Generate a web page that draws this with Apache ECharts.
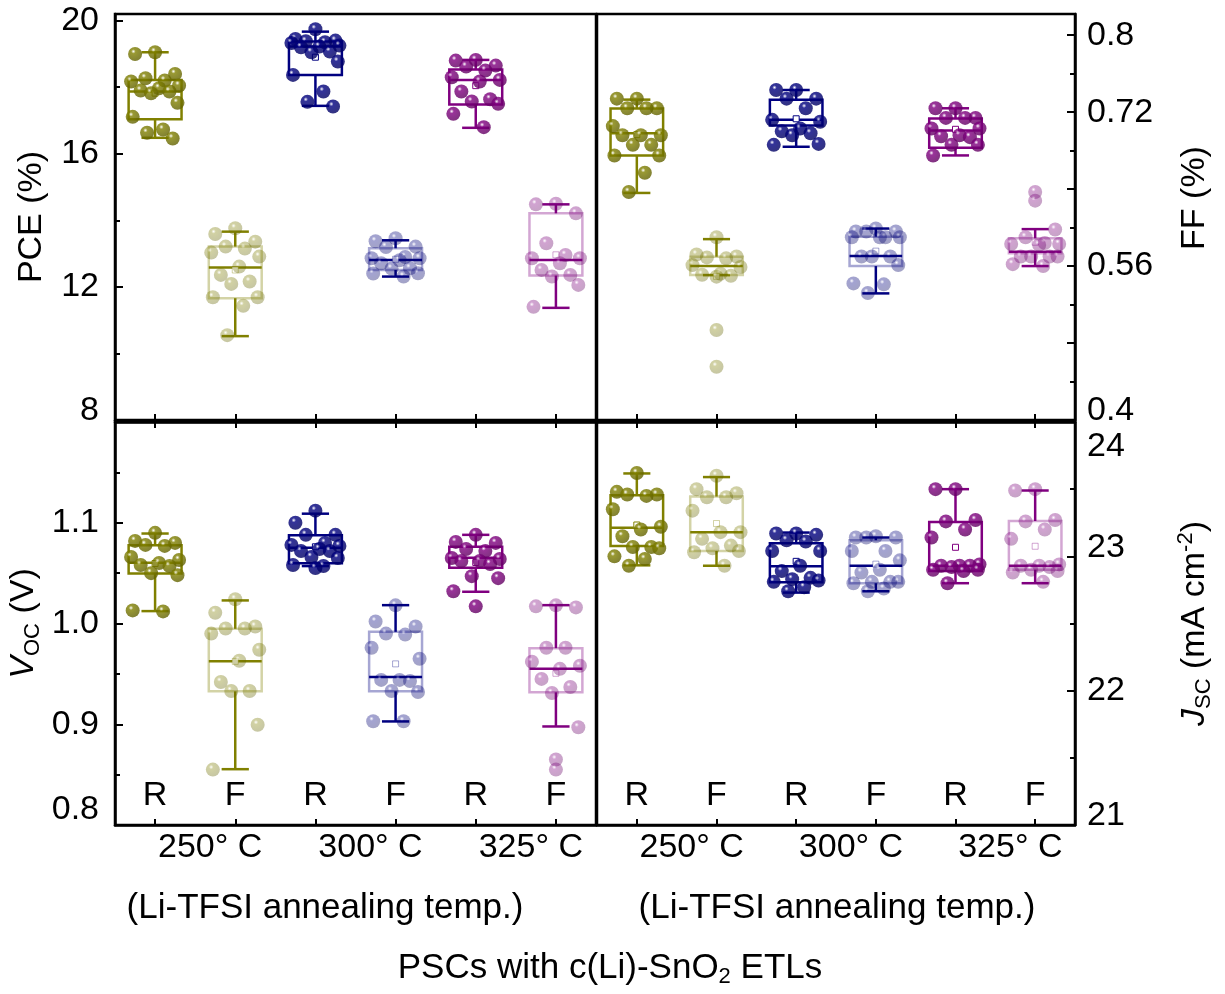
<!DOCTYPE html>
<html>
<head>
<meta charset="utf-8">
<script src="https://cdn.jsdelivr.net/npm/echarts@6/dist/echarts.min.js"></script>
<style>
html, body { margin: 0; background: #fff; }
#chart { width: 1225px; height: 994px; }
</style>
</head>
<body>
<div id="chart"></div>
<script>
// x categories (R = reverse scan, F = forward scan) and annealing temps
const categories = ['R', 'F', 'R', 'F', 'R', 'F'];
const temps = ['250° C', '300° C', '325° C'];

// PCE (%) points per group
const pceR250 = [19.05, 19.0, 18.4, 18.27, 18.2, 18.17, 18.05, 17.97, 17.9, 17.87, 17.82, 17.53, 17.11, 16.73, 16.63, 16.46];
const pceF250 = [13.76, 13.59, 13.36, 13.21, 13.15, 13.03, 12.91, 12.61, 12.36, 12.16, 12.09, 11.69, 11.69, 11.43, 10.55];
const pceR300 = [19.74, 19.45, 19.4, 19.38, 19.35, 19.33, 19.25, 19.22, 19.2, 19.07, 19.05, 18.77, 18.37, 17.87, 17.56, 17.42];
const pceF300 = [13.46, 13.37, 13.21, 13.2, 12.9, 12.86, 12.86, 12.8, 12.71, 12.56, 12.55, 12.41, 12.4, 12.31];
const pceR325 = [18.82, 18.8, 18.65, 18.62, 18.5, 18.3, 18.22, 18.17, 17.87, 17.64, 17.57, 17.5, 17.2, 16.8];
const pceF325 = [14.5, 14.48, 14.21, 13.31, 12.96, 12.86, 12.86, 12.71, 12.51, 12.36, 12.31, 12.06, 11.4];
// [whisker low, Q1, median, Q3, whisker high]
const pceBoxes = [
  [16.48, 17.04, 17.87, 18.22, 19.05],
  [10.52, 11.66, 12.58, 13.21, 13.66],
  [17.44, 18.37, 19.22, 19.37, 19.67],
  [12.31, 12.51, 12.81, 13.16, 13.4],
  [16.78, 17.48, 18.22, 18.53, 18.82],
  [11.37, 12.34, 12.81, 14.21, 14.48]
];

// FF points
const ffR250 = [0.734, 0.734, 0.724, 0.724, 0.724, 0.7055, 0.696, 0.696, 0.696, 0.686, 0.686, 0.675, 0.675, 0.657, 0.637];
const ffF250 = [0.59, 0.572, 0.57, 0.569, 0.568, 0.561, 0.559, 0.552, 0.551, 0.55, 0.549, 0.4935, 0.4554];
const ffR300 = [0.743, 0.743, 0.734, 0.734, 0.724, 0.712, 0.71, 0.703, 0.7, 0.698, 0.696, 0.687, 0.686];
const ffF300 = [0.599, 0.596, 0.596, 0.596, 0.59, 0.59, 0.59, 0.59, 0.57, 0.57, 0.57, 0.561, 0.542, 0.541, 0.532];
const ffR325 = [0.724, 0.724, 0.714, 0.714, 0.714, 0.703, 0.703, 0.696, 0.695, 0.694, 0.686, 0.686, 0.675];
const ffF325 = [0.637, 0.628, 0.598, 0.59, 0.584, 0.583, 0.583, 0.582, 0.57, 0.57, 0.57, 0.57, 0.562, 0.56];
const ffBoxes = [
  [0.636, 0.675, 0.698, 0.7238, 0.733],
  [0.5506, 0.5506, 0.56, 0.5697, 0.588],
  [0.684, 0.706, 0.712, 0.733, 0.743],
  [0.5316, 0.56, 0.5704, 0.5905, 0.599],
  [0.675, 0.683, 0.701, 0.7134, 0.724],
  [0.56, 0.5732, 0.5749, 0.5888, 0.5984]
];

// VOC (V) points
const vocR250 = [1.09, 1.082, 1.08, 1.078, 1.077, 1.066, 1.063, 1.06, 1.058, 1.057, 1.05, 1.048, 1.013, 1.012];
const vocF250 = [1.024, 1.0107, 0.997, 0.995, 0.995, 0.99, 0.974, 0.963, 0.942, 0.933, 0.933, 0.8995, 0.855];
const vocR300 = [1.112, 1.1, 1.088, 1.088, 1.08, 1.078, 1.077, 1.074, 1.072, 1.072, 1.066, 1.065, 1.058, 1.057, 1.055];
const vocF300 = [1.018, 1.002, 0.997, 0.99, 0.989, 0.976, 0.965, 0.944, 0.944, 0.943, 0.933, 0.932, 0.903, 0.903];
const vocR325 = [1.088, 1.081, 1.08, 1.074, 1.072, 1.065, 1.064, 1.062, 1.062, 1.059, 1.047, 1.045, 1.032, 1.017];
const vocF325 = [1.018, 1.017, 1.016, 0.976, 0.976, 0.962, 0.958, 0.955, 0.945, 0.937, 0.931, 0.897, 0.865, 0.855];
const vocBoxes = [
  [1.0123, 1.0497, 1.0604, 1.0776, 1.0893],
  [0.8554, 0.9327, 0.9625, 0.9947, 1.0229],
  [1.057, 1.0597, 1.0753, 1.0876, 1.109],
  [0.9028, 0.9327, 0.947, 0.9917, 1.0182],
  [1.0315, 1.0554, 1.0653, 1.0763, 1.088],
  [0.8978, 0.9317, 0.955, 0.9755, 1.0182]
];

// JSC (mA cm-2) points
const jscR250 = [23.62, 23.48, 23.46, 23.46, 23.45, 23.35, 23.22, 23.2, 23.15, 23.07, 23.07, 23.06, 23.0, 22.98, 22.93];
const jscF250 = [23.6, 23.5, 23.47, 23.44, 23.44, 23.34, 23.18, 23.18, 23.13, 23.08, 23.06, 23.04, 23.03, 22.93];
const jscR300 = [23.17, 23.17, 23.16, 23.12, 23.11, 23.04, 23.04, 22.93, 22.89, 22.84, 22.83, 22.82, 22.81, 22.77, 22.74];
const jscF300 = [23.15, 23.14, 23.14, 23.14, 23.04, 23.04, 22.97, 22.9, 22.88, 22.81, 22.81, 22.81, 22.8, 22.76, 22.74];
const jscR325 = [23.5, 23.5, 23.27, 23.26, 23.2, 23.14, 22.94, 22.93, 22.93, 22.93, 22.92, 22.9, 22.9, 22.89, 22.8];
const jscF325 = [23.5, 23.49, 23.27, 23.26, 23.2, 23.13, 22.94, 22.93, 22.93, 22.92, 22.9, 22.89, 22.88, 22.81];
const jscBoxes = [
  [22.933, 23.077, 23.213, 23.455, 23.617],
  [22.93, 23.04, 23.18, 23.445, 23.59],
  [22.73, 22.808, 22.927, 23.097, 23.177],
  [22.74, 22.8, 22.93, 23.12, 23.14],
  [22.8, 22.89, 22.93, 23.255, 23.5],
  [22.8, 22.9, 22.93, 23.263, 23.49]
];

const FONT = '"Liberation Sans", Arial, sans-serif';
const RGB = [[128, 128, 0], [0, 0, 128], [128, 0, 128]];
// horizontal spread of the dots inside a category (fraction of band)
const JITTER = [0, -0.25, 0.25, -0.12, 0.12, -0.3, 0.3, 0.05, -0.18, 0.18, -0.05, 0.28, -0.28, 0.1, -0.1, 0.22];
const BAND = 80;

const panels = [
  { boxes: pceBoxes, points: [pceR250, pceF250, pceR300, pceF300, pceR325, pceF325] },
  { boxes: ffBoxes, points: [ffR250, ffF250, ffR300, ffF300, ffR325, ffF325] },
  { boxes: vocBoxes, points: [vocR250, vocF250, vocR300, vocF300, vocR325, vocF325] },
  { boxes: jscBoxes, points: [jscR250, jscF250, jscR300, jscF300, jscR325, jscF325] }
];

function rgba(c, a) { return 'rgba(' + c[0] + ',' + c[1] + ',' + c[2] + ',' + a + ')'; }
function ball(c, a) {
  const d = c.map(v => Math.round(v * 0.75));
  return {
    type: 'radial', x: 0.38, y: 0.32, r: 0.72,
    colorStops: [
      { offset: 0, color: rgba([255, 255, 255], a) },
      { offset: 0.22, color: rgba(c, a) },
      { offset: 1, color: rgba(d, a) }
    ]
  };
}
function mean(arr) { return arr.reduce((s, v) => s + v, 0) / arr.length; }

function boxSeries(p, k) {
  return {
    type: 'custom', xAxisIndex: k, yAxisIndex: k, z: 2, silent: true,
    encode: { x: 0, y: [1, 2, 3, 4, 5] },
    data: p.boxes.map((b, i) => [i].concat(b, [mean(p.points[i])])),
    renderItem(params, api) {
      const i = api.value(0);
      const col = RGB[Math.floor(i / 2)];
      const light = i % 2 === 1;
      const band = api.size([1, 0])[0];
      const half = band * 0.33, cap = band * 0.17;
      const x = api.coord([i, api.value(3)])[0];
      const y = j => api.coord([i, api.value(j)])[1];
      const dark = rgba(col, 1);
      const edge = light ? rgba(col, 0.35) : dark;
      const ln = (x1, y1, x2, y2) => ({ type: 'line', shape: { x1, y1, x2, y2 }, style: { stroke: dark, lineWidth: 2.5 } });
      return {
        type: 'group',
        children: [
          { type: 'rect', shape: { x: x - half, y: y(4), width: 2 * half, height: y(2) - y(4) }, style: { fill: 'none', stroke: edge, lineWidth: 2.5 } },
          ln(x, y(4), x, y(5)),
          ln(x, y(2), x, y(1)),
          ln(x - cap, y(5), x + cap, y(5)),
          ln(x - cap, y(1), x + cap, y(1)),
          ln(x - half, y(3), x + half, y(3)),
          { type: 'rect', shape: { x: x - 3, y: y(6) - 3, width: 6, height: 6 }, style: { fill: '#fff', stroke: edge, lineWidth: 1 } }
        ]
      };
    }
  };
}

function pointSeries(p, k) {
  const data = [];
  p.points.forEach((arr, i) => {
    const col = RGB[Math.floor(i / 2)];
    const a = i % 2 ? 0.45 : 1;
    const b = p.boxes[i];
    const tol = (b[4] - b[0]) * 0.02;
    arr.forEach((v, j) => {
      // dots beyond the whiskers sit on the centre line
      const outside = v > b[4] + tol || v < b[0] - tol;
      data.push({
        value: [i, v],
        symbolOffset: [outside ? 0 : JITTER[j % JITTER.length] * BAND, 0],
        itemStyle: { color: ball(col, a) }
      });
    });
  });
  return { type: 'scatter', xAxisIndex: k, yAxisIndex: k, symbolSize: 14, z: 3, silent: true, data };
}

const black = { color: '#000', width: 2.5 };
const txt = { color: '#000', fontSize: 34, fontFamily: FONT };

function catAxis(k, showLabels) {
  return {
    type: 'category', gridIndex: k, data: categories, position: 'bottom',
    axisLine: { show: true, lineStyle: black },
    axisTick: { show: true, inside: true, alignWithLabel: true, length: 6, lineStyle: { color: '#000', width: 2 } },
    axisLabel: showLabels ? Object.assign({ inside: true, margin: 12 }, txt) : { show: false },
    splitLine: { show: false }
  };
}
function tempAxis(k) {
  return {
    type: 'category', gridIndex: k, data: temps, position: 'bottom',
    axisLine: { show: false }, axisTick: { show: false },
    axisLabel: Object.assign({ margin: 6, padding: [0, 0, 0, 30] }, txt)
  };
}
function topAxis(k) {
  return {
    type: 'category', gridIndex: k, data: categories, position: 'top',
    axisLine: { show: true, lineStyle: black },
    axisTick: { show: true, inside: true, alignWithLabel: true, length: 6, lineStyle: { color: '#000', width: 2 } },
    axisLabel: { show: false }
  };
}

const near = (a, b) => Math.abs(a - b) < 1e-6;
const richShift = {
  up: { padding: [0, 0, 18, 0], fontSize: 34, fontFamily: FONT, color: '#000' },
  up2: { padding: [0, 0, 30, 0], fontSize: 34, fontFamily: FONT, color: '#000' },
  down: { padding: [50, 0, 0, 0], fontSize: 34, fontFamily: FONT, color: '#000' }
};
const nameRich = {
  i: { fontStyle: 'italic', fontSize: 34, fontFamily: FONT, color: '#000', lineHeight: 40 },
  s: { fontSize: 22, fontFamily: FONT, color: '#000', verticalAlign: 'bottom', lineHeight: 22 },
  p: { fontSize: 22, fontFamily: FONT, color: '#000', verticalAlign: 'top', lineHeight: 22 },
  n: { fontSize: 34, fontFamily: FONT, color: '#000', lineHeight: 40 }
};

function valAxis(k, position, min, max, interval, formatter, name, nameGap, namePad) {
  return {
    type: 'value', gridIndex: k, position, min, max, interval,
    axisLine: { show: true, lineStyle: black },
    axisTick: { show: true, inside: true, length: 8, lineStyle: { color: '#000', width: 2 } },
    minorTick: { show: true, splitNumber: 2, length: 5, lineStyle: { color: '#000', width: 2 } },
    splitLine: { show: false },
    axisLabel: Object.assign({ margin: position === 'left' ? 16 : 12, formatter, rich: richShift }, txt),
    name, nameLocation: 'middle', nameRotate: 90, nameGap,
    nameTextStyle: Object.assign({ rich: nameRich, lineHeight: 40, padding: namePad || 0 }, txt)
  };
}

const option = {
  animation: false,
  backgroundColor: '#fff',
  grid: [
    { left: 115, top: 14, width: 481, height: 406 },
    { left: 597, top: 14, width: 478, height: 406 },
    { left: 115, top: 422, width: 481, height: 403 },
    { left: 597, top: 422, width: 478, height: 403 }
  ].map(g => Object.assign({ show: true, borderColor: '#000', borderWidth: 2.5, backgroundColor: 'transparent' }, g)),
  xAxis: [
    catAxis(0, false), catAxis(1, false), catAxis(2, true), catAxis(3, true),
    tempAxis(2), tempAxis(3), topAxis(2), topAxis(3)
  ],
  yAxis: [
    valAxis(0, 'left', 8, 20.2, 4, v => {
      if (near(v, 8)) return '{up|8}';
      return [12, 16, 20].some(t => near(v, t)) ? String(v) : '';
    }, 'PCE (%)', 63),
    valAxis(1, 'right', 0.4, 0.822, 0.08, v => {
      if (near(v, 0.4)) return '{up|0.4}';
      return [0.56, 0.72, 0.8].some(t => near(v, t)) ? String(+v.toFixed(2)) : '';
    }, 'FF (%)', 100, [0, 0, 0, 38]),
    valAxis(2, 'left', 0.8, 1.2, 0.1, v => {
      if (near(v, 0.8)) return '{up2|0.8}';
      return [0.9, 1.0, 1.1].some(t => near(v, t)) ? v.toFixed(1) : '';
    }, '{i|V}{s|OC}{n| (V)}', 71),
    valAxis(3, 'right', 21, 24, 1, v => {
      if (near(v, 24)) return '{down|24}';
      if (near(v, 21) || near(v, 23)) return '{up|' + v + '}';
      return near(v, 22) ? '22' : '';
    }, '{i|J}{s|SC}{n| (mA cm}{p|-2}{n|)}', 100)
  ],
  series: panels.map(boxSeries).concat(panels.map(pointSeries)),
  graphic: [
    { type: 'text', x: 325, y: 908, style: { text: '(Li-TFSI annealing temp.)', fontSize: 35, fontFamily: FONT, fill: '#000', align: 'center', verticalAlign: 'middle' } },
    { type: 'text', x: 837, y: 908, style: { text: '(Li-TFSI annealing temp.)', fontSize: 35, fontFamily: FONT, fill: '#000', align: 'center', verticalAlign: 'middle' } },
    {
      type: 'text', x: 610, y: 968,
      style: {
        text: '{n|PSCs with c(Li)-SnO}{s|2}{n| ETLs}', fontSize: 35, fontFamily: FONT, fill: '#000', align: 'center', verticalAlign: 'middle',
        rich: {
          n: { fontSize: 35, fontFamily: FONT, fill: '#000', lineHeight: 40 },
          s: { fontSize: 22, fontFamily: FONT, fill: '#000', verticalAlign: 'bottom', lineHeight: 22 }
        }
      }
    }
  ]
};

const chart = echarts.init(document.getElementById('chart'));
chart.setOption(option);
</script>
</body>
</html>
